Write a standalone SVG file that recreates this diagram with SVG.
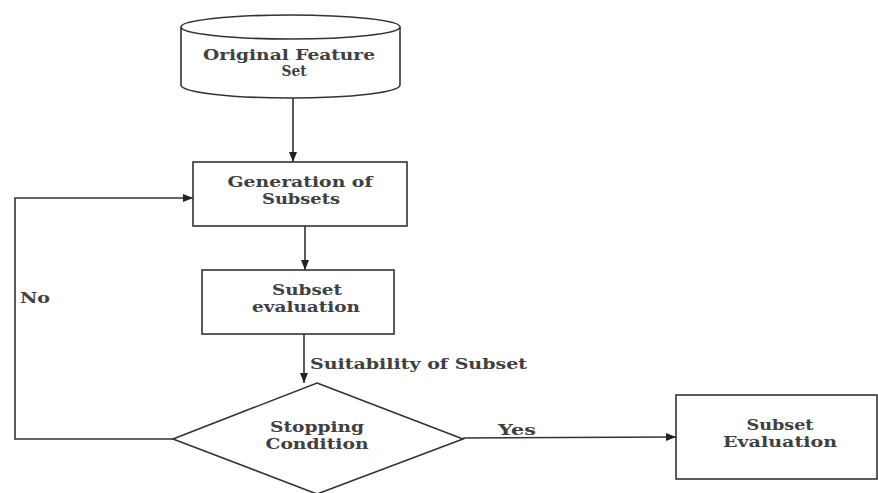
<svg xmlns="http://www.w3.org/2000/svg" width="878" height="493" viewBox="0 0 878 493">
<defs>
<marker id="ah" viewBox="0 0 10 10" refX="10" refY="5" markerWidth="10" markerHeight="10" markerUnits="userSpaceOnUse" orient="auto">
<path d="M0,1 L10,5 L0,9 z" fill="#222"/>
</marker>
<style>
.s{fill:#fff;stroke:#333;stroke-width:1.6}
.t{font-family:"DejaVu Serif","Liberation Serif",serif;font-weight:bold;font-size:14px;fill:#404040;text-anchor:middle}
.l{font-family:"DejaVu Serif","Liberation Serif",serif;font-weight:bold;font-size:14px;fill:#404040}
.c{fill:none;stroke:#333;stroke-width:1.6}
</style>
</defs>
<rect width="878" height="493" fill="#fff"/>
<g id="connectors">
<line class="c" x1="293" y1="98" x2="293" y2="162" marker-end="url(#ah)"/>
<line class="c" x1="305" y1="226" x2="305" y2="270" marker-end="url(#ah)"/>
<line class="c" x1="304" y1="334" x2="304" y2="383" marker-end="url(#ah)"/>
<polyline class="c" points="173,439 15,439 15,198 193,198" marker-end="url(#ah)"/>
<line class="c" x1="463" y1="438" x2="676" y2="437" marker-end="url(#ah)"/>
<text class="l" x="310" y="369" textLength="217" lengthAdjust="spacingAndGlyphs">Suitability of Subset</text>
<text class="l" x="20" y="303" textLength="30" lengthAdjust="spacingAndGlyphs">No</text>
<text class="l" x="498" y="435" textLength="38" lengthAdjust="spacingAndGlyphs">Yes</text>
</g>
<g id="original-feature-set">
<path class="s" d="M181,27 L181,85 A109.5,13 0 0 0 400,85 L400,27 A109.5,12 0 0 0 181,27 Z"/>
<path class="s" d="M181,27 A109.5,12 0 0 0 400,27" fill="none"/>
<text class="t" x="289" y="60" textLength="172" lengthAdjust="spacingAndGlyphs">Original Feature</text>
<text class="t" x="294" y="76" textLength="25" lengthAdjust="spacingAndGlyphs">Set</text>
</g>
<g id="generation-of-subsets">
<rect class="s" x="193" y="162" width="214" height="64"/>
<text class="t" x="300" y="187" textLength="145" lengthAdjust="spacingAndGlyphs">Generation of</text>
<text class="t" x="301" y="204" textLength="78" lengthAdjust="spacingAndGlyphs">Subsets</text>
</g>
<g id="subset-evaluation">
<rect class="s" x="202" y="270" width="192" height="64"/>
<text class="t" x="307" y="295" textLength="70" lengthAdjust="spacingAndGlyphs">Subset</text>
<text class="t" x="306" y="312" textLength="108" lengthAdjust="spacingAndGlyphs">evaluation</text>
</g>
<g id="stopping-condition">
<polygon class="s" points="317,383 463,439 317,494 173,439"/>
<text class="t" x="317" y="432" textLength="94" lengthAdjust="spacingAndGlyphs">Stopping</text>
<text class="t" x="317" y="449" textLength="103" lengthAdjust="spacingAndGlyphs">Condition</text>
</g>
<g id="subset-evaluation-final">
<rect class="s" x="676" y="395" width="201" height="84"/>
<text class="t" x="780" y="430" textLength="67" lengthAdjust="spacingAndGlyphs">Subset</text>
<text class="t" x="780" y="447" textLength="114" lengthAdjust="spacingAndGlyphs">Evaluation</text>
</g>
</svg>
